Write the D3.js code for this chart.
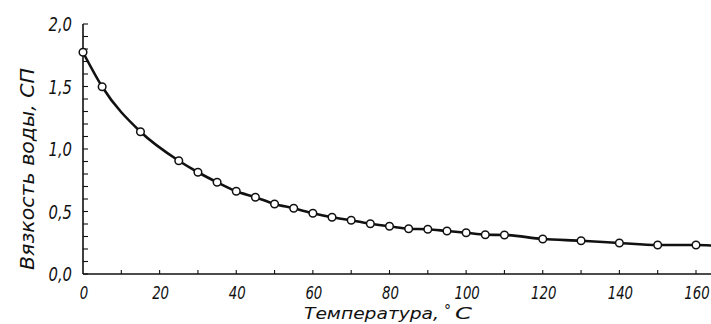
<!DOCTYPE html>
<html><head><meta charset="utf-8">
<script src="https://cdn.jsdelivr.net/npm/d3@7"></script>
<style>
html,body{margin:0;padding:0;background:#fff;}
text{font-family:"DejaVu Sans",sans-serif;font-style:oblique;fill:#111;}
</style></head>
<body><svg id="c" width="711" height="324"></svg>
<script>
const temps = [0,5,15,25,30,35,40,45,50,55,60,65,70,75,80,85,90,95,100,105,110,120,130,140,150,160];
const visc  = [1.774,1.498,1.138,0.906,0.814,0.734,0.662,0.614,0.56,0.526,0.486,0.454,0.43,0.402,0.382,0.362,0.358,0.344,0.33,0.314,0.312,0.28,0.266,0.248,0.232,0.232];
const tailTemp = 164, tailVisc = 0.228;
const xTickLabels = [0,20,40,60,80,100,120,140,160];
const yTickLabels = ["0,0","0,5","1,0","1,5","2,0"];
const yTickValues = [0,0.5,1,1.5,2];
const xTitleMain = "Температура,";
const xTitleDeg = "°";
const xTitleUnit = "C";
const yTitle = "Вязкость воды, СП";

const svg = d3.select("#c");
const x = d3.scaleLinear().domain([0,160]).range([83,696]);
const y = d3.scaleLinear().domain([0,2]).range([274,24]);
const ink = "#111";

// axes lines
svg.append("line").attr("x1",x(0)).attr("x2",x(tailTemp)+1).attr("y1",y(0)).attr("y2",y(0))
  .attr("stroke",ink).attr("stroke-width",1.6);
svg.append("line").attr("x1",x(0)).attr("x2",x(0)).attr("y1",y(0)).attr("y2",y(2))
  .attr("stroke",ink).attr("stroke-width",1.6);

// y minor ticks
svg.append("g").selectAll("line").data(d3.range(0,21).map(i=>i/10)).join("line")
  .attr("x1",x(0)).attr("x2",x(0)+5).attr("y1",d=>y(d)).attr("y2",d=>y(d))
  .attr("stroke",ink).attr("stroke-width",1.1);
// x ticks
svg.append("g").selectAll("line").data(d3.range(10,161,10)).join("line")
  .attr("x1",d=>x(d)).attr("x2",d=>x(d)).attr("y1",y(0)).attr("y2",y(0)-4)
  .attr("stroke",ink).attr("stroke-width",1.1);

// y tick labels
svg.append("g").selectAll("text").data(yTickValues).join("text")
  .attr("transform",d=>`translate(72,${y(d)+7}) scale(0.78,1)`)
  .attr("text-anchor","end").attr("font-size",19).text((d,i)=>yTickLabels[i]);
// x tick labels
svg.append("g").selectAll("text").data(xTickLabels).join("text")
  .attr("transform",d=>`translate(${x(d)+1},298.5) scale(0.72,1)`)
  .attr("text-anchor","middle").attr("font-size",18.5).text(d=>d);

// x title
svg.append("text").attr("x",304).attr("y",319).attr("font-size",16.5)
  .attr("textLength",135).attr("lengthAdjust","spacingAndGlyphs").text(xTitleMain);
svg.append("text").attr("x",444).attr("y",315).attr("font-size",14).text(xTitleDeg);
svg.append("text").attr("x",455).attr("y",319).attr("font-size",16.5)
  .attr("textLength",17).attr("lengthAdjust","spacingAndGlyphs").text(xTitleUnit);

// y title
svg.append("text").attr("transform","translate(34,169) rotate(-90)")
  .attr("text-anchor","middle").attr("font-size",20)
  .attr("textLength",202).attr("lengthAdjust","spacingAndGlyphs").text(yTitle);

// curve
const pts = temps.map((t,i)=>[t,visc[i]]).concat([[tailTemp,tailVisc]]);
const line = d3.line().x(d=>x(d[0])).y(d=>y(d[1])).curve(d3.curveMonotoneX);
svg.append("path").attr("d",line(pts)).attr("fill","none").attr("stroke",ink).attr("stroke-width",2.6);

svg.append("g").selectAll("circle").data(temps).join("circle")
  .attr("cx",d=>x(d)).attr("cy",(d,i)=>y(visc[i])).attr("r",3.8)
  .attr("fill","#fff").attr("stroke",ink).attr("stroke-width",1.5);
</script></body></html>
